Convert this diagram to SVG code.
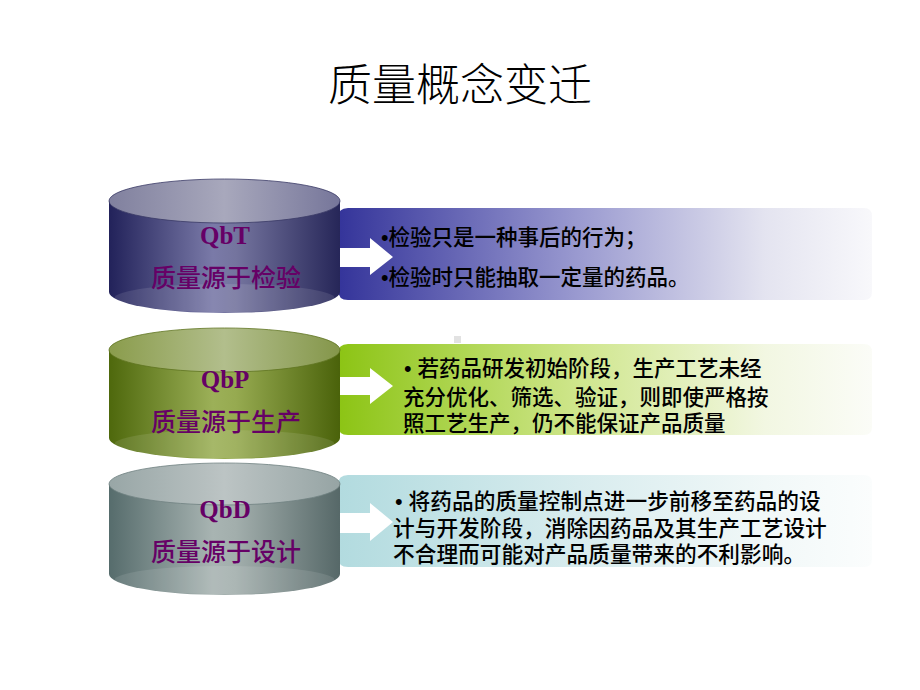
<svg xmlns="http://www.w3.org/2000/svg" width="920" height="690" viewBox="0 0 920 690">
<defs>
<linearGradient id="b1" x1="0" y1="0" x2="1" y2="0"><stop offset="0" stop-color="#34349a"/><stop offset="0.45" stop-color="#9a9ad0"/><stop offset="0.8" stop-color="#e4e4f0"/><stop offset="1" stop-color="#f8f8fb"/></linearGradient>
<linearGradient id="b2" x1="0" y1="0" x2="1" y2="0"><stop offset="0" stop-color="#8cc414"/><stop offset="0.45" stop-color="#cfe68c"/><stop offset="0.8" stop-color="#f2f7e2"/><stop offset="1" stop-color="#fbfcf7"/></linearGradient>
<linearGradient id="b3" x1="0" y1="0" x2="1" y2="0"><stop offset="0" stop-color="#b2dbdf"/><stop offset="0.45" stop-color="#d8ecee"/><stop offset="0.8" stop-color="#f1f8f8"/><stop offset="1" stop-color="#fbfdfd"/></linearGradient>
<linearGradient id="c1s" x1="0" y1="0" x2="1" y2="0"><stop offset="0" stop-color="#22225a"/><stop offset="0.45" stop-color="#7a7aa8"/><stop offset="0.55" stop-color="#74749e"/><stop offset="1" stop-color="#262658"/></linearGradient>
<linearGradient id="c1t" x1="0" y1="0" x2="1" y2="0"><stop offset="0" stop-color="#80809e"/><stop offset="0.5" stop-color="#a8a8bc"/><stop offset="1" stop-color="#76769a"/></linearGradient>
<linearGradient id="c2s" x1="0" y1="0" x2="1" y2="0"><stop offset="0" stop-color="#4e680c"/><stop offset="0.45" stop-color="#9cb058"/><stop offset="0.55" stop-color="#96aa50"/><stop offset="1" stop-color="#4a620a"/></linearGradient>
<linearGradient id="c2t" x1="0" y1="0" x2="1" y2="0"><stop offset="0" stop-color="#8a9c4c"/><stop offset="0.5" stop-color="#b2be8c"/><stop offset="1" stop-color="#84964a"/></linearGradient>
<linearGradient id="c3s" x1="0" y1="0" x2="1" y2="0"><stop offset="0" stop-color="#566c6c"/><stop offset="0.45" stop-color="#a8b4b2"/><stop offset="0.55" stop-color="#a2aeac"/><stop offset="1" stop-color="#566868"/></linearGradient>
<linearGradient id="c3t" x1="0" y1="0" x2="1" y2="0"><stop offset="0" stop-color="#98a6a6"/><stop offset="0.5" stop-color="#bcc4c4"/><stop offset="1" stop-color="#96a4a4"/></linearGradient>
<style>
.title{font-family:"Noto Sans CJK SC","Liberation Serif",serif;font-weight:300;font-size:44px;fill:#000;text-anchor:middle}
.q{font-family:"Liberation Serif",serif;font-weight:bold;font-size:25px;fill:#660066;text-anchor:middle}
.cn{font-family:"Noto Sans CJK SC",sans-serif;font-weight:500;font-size:25px;fill:#660066;text-anchor:middle}
.t{font-family:"Liberation Sans","Noto Sans CJK SC",sans-serif;font-weight:500;font-size:21px;fill:#000}
.arrow{fill:#fff}
.hl{fill:#fff;opacity:0.1}
</style>
</defs>
<rect width="920" height="690" fill="#fff"/>
<text class="title" x="460" y="101">质量概念变迁</text>

<g id="banner-qbt">
<path d="M348,208 H864 Q872,208 872,216 V292 Q872,300 864,300 H348 Q338,300 338,290 V218 Q338,208 348,208 Z" fill="url(#b1)"/>
<text class="t" x="381" y="245" style="font-size:21.5px">•检验只是一种事后的行为；</text>
<text class="t" x="381" y="285" style="font-size:21.5px">•检验时只能抽取一定量的药品。</text>
</g>
<g id="banner-qbp">
<path d="M348,344 H864 Q872,344 872,352 V427 Q872,435 864,435 H348 Q338,435 338,425 V354 Q338,344 348,344 Z" fill="url(#b2)"/>
<rect x="454" y="336" width="7" height="7" fill="#e2e2e2"/>
<text class="t" x="404" y="376" style="font-size:21.5px">• 若药品研发初始阶段，生产工艺未经</text>
<text class="t" x="403" y="405" style="font-size:21.5px">充分优化、筛选、验证，则即使严格按</text>
<text class="t" x="403" y="431" style="font-size:21.5px">照工艺生产，仍不能保证产品质量</text>
</g>
<g id="banner-qbd">
<path d="M348,475 H864 Q872,475 872,483 V559 Q872,567 864,567 H348 Q338,567 338,557 V485 Q338,475 348,475 Z" fill="url(#b3)"/>
<text class="t" x="395" y="509" style="font-size:21.7px">• 将药品的质量控制点进一步前移至药品的设</text>
<text class="t" x="393" y="536" style="font-size:21.7px">计与开发阶段，消除因药品及其生产工艺设计</text>
<text class="t" x="393" y="562" style="font-size:21.7px">不合理而可能对产品质量带来的不利影响。</text>
</g>

<g id="connectors">
<path class="arrow" d="M336,248 H370 V238 L393,257 L370,275 V267 H336 Z"/>
<path class="arrow" d="M336,377 H370 V368 L393,386 L370,404 V395 H336 Z"/>
<path class="arrow" d="M336,513 H370 V503 L393,522 L370,541 V533 H336 Z"/>
</g>

<g id="cyl-qbd">
<path d="M109,484 V574 A115.5,21 0 0 0 340,574 V484 Z" fill="url(#c3s)"/>
<ellipse class="hl" cx="224.5" cy="580" rx="110" ry="14"/>
<ellipse cx="224.5" cy="484" rx="115.5" ry="21" fill="url(#c3t)" stroke="#6e8080" stroke-width="0.8"/>
<text class="q" x="225" y="518">QbD</text>
<text class="cn" x="226" y="561">质量源于设计</text>
</g>
<g id="cyl-qbp">
<path d="M109,350 V438 A115.5,21 0 0 0 340,438 V350 Z" fill="url(#c2s)"/>
<ellipse class="hl" cx="224.5" cy="444" rx="110" ry="14"/>
<ellipse cx="224.5" cy="350" rx="115.5" ry="22" fill="url(#c2t)" stroke="#5e7420" stroke-width="0.8"/>
<text class="q" x="225" y="388">QbP</text>
<text class="cn" x="226" y="431">质量源于生产</text>
</g>
<g id="cyl-qbt">
<path d="M109,201 V292 A115.5,21 0 0 0 340,292 V201 Z" fill="url(#c1s)"/>
<ellipse class="hl" cx="224.5" cy="298" rx="110" ry="14"/>
<ellipse cx="224.5" cy="201" rx="115.5" ry="22" fill="url(#c1t)" stroke="#3a3a66" stroke-width="0.8"/>
<text class="q" x="225" y="244">QbT</text>
<text class="cn" x="226" y="287">质量源于检验</text>
</g>
</svg>
